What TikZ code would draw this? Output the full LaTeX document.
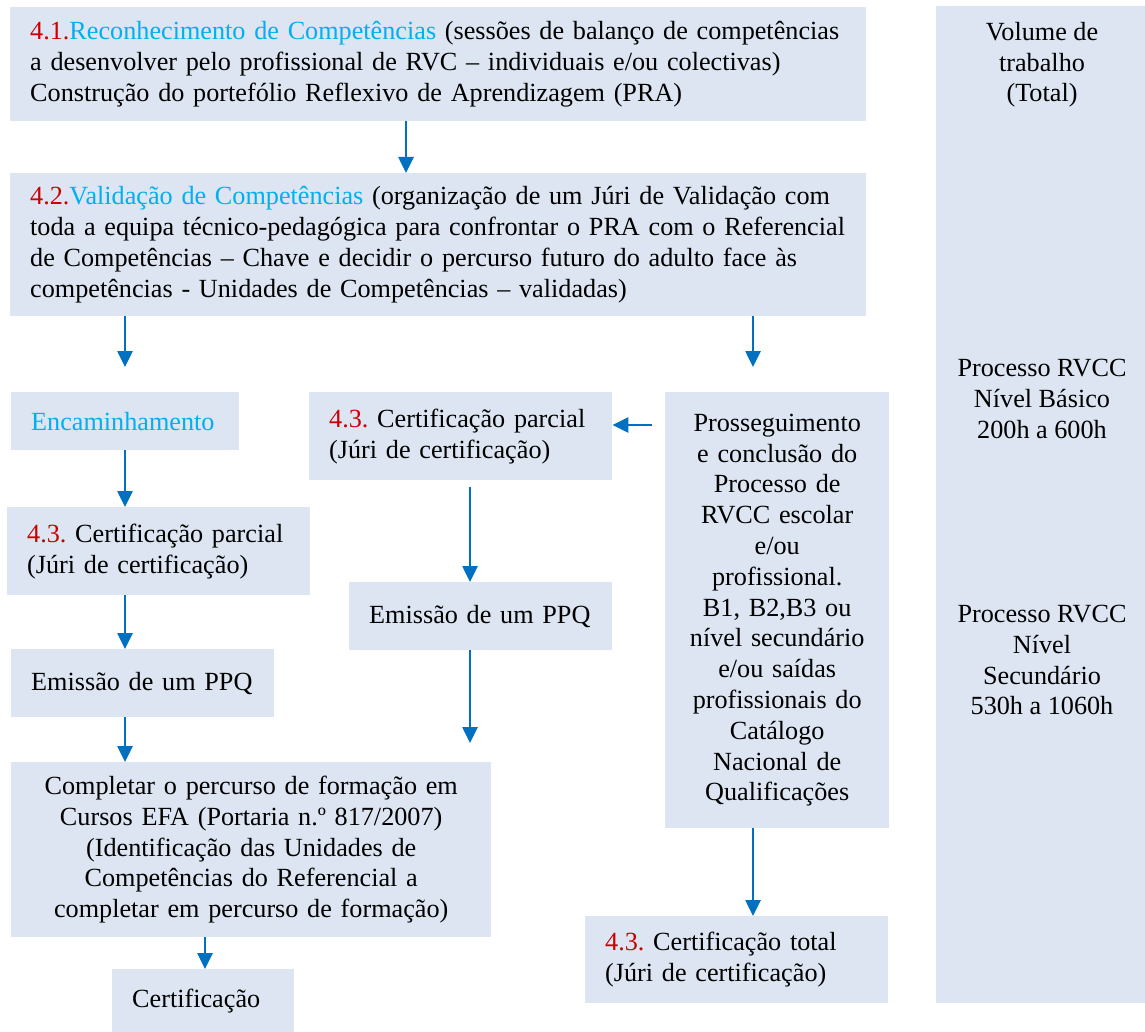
\documentclass[tikz,border=0pt]{standalone}
\usepackage{fontspec}
\setmainfont{Liberation Serif}
\usetikzlibrary{arrows.meta}
\definecolor{boxfill}{RGB}{220,229,241}
\definecolor{arrblue}{RGB}{0,112,192}
\definecolor{numred}{RGB}{204,0,0}
\definecolor{titlecyan}{RGB}{0,176,240}
\tikzset{
  box/.style={fill=boxfill, anchor=north west, inner xsep=0pt, inner ysep=0pt,
    font=\fontsize{26.2pt}{30.8pt}\selectfont\frenchspacing},
  lbox/.style={box, align=left, execute at begin node={\leftskip=20pt}},
  cbox/.style={box, align=center},
  voltext/.style={anchor=north, align=center, inner sep=0pt,
    font=\fontsize{26.2pt}{30.8pt}\selectfont},
  arr/.style={draw=arrblue, line width=2.6pt, -{Triangle[width=15pt,length=16pt]}}
}
\begin{document}
\begin{tikzpicture}[x=1pt,y=-1pt]
            \useasboundingbox (0,0) rectangle (1145,1032);
            \node[lbox, text width=856pt, minimum height=114pt] (rec) at (10,7)
              {{\color{numred}4.1.}{\color{titlecyan}Reconhecimento de Competências} (sessões de balanço de competências\\
               a desenvolver pelo profissional de RVC – individuais e/ou colectivas)\\
               Construção do portefólio Reflexivo de Aprendizagem (PRA)};
            \node[lbox, text width=856pt, minimum height=143pt] (val) at (10,173)
              {{\color{numred}4.2.}{\color{titlecyan}Validação de Competências} (organização de um Júri de Validação com\\
               toda a equipa técnico-pedagógica para confrontar o PRA com o Referencial\\
               de Competências – Chave e decidir o percurso futuro do adulto face às\\
               competências - Unidades de Competências – validadas)};
            \node[lbox, text width=228pt, minimum height=58pt] (enc) at (11,392)
              {\color{titlecyan}Encaminhamento};
            \node[lbox, text width=303pt, minimum height=88pt] (cpm) at (309,392)
              {{\color{numred}4.3.} Certificação parcial\\(Júri de certificação)};
            \node[cbox, text width=224pt, minimum height=436pt] (pro) at (665,392)
              {Prosseguimento\\e conclusão do\\Processo de\\RVCC escolar\\e/ou\\profissional.\\B1, B2,B3 ou\\nível secundário\\e/ou saídas\\profissionais do\\Catálogo\\Nacional de\\Qualificações};
            \node[lbox, text width=303pt, minimum height=88pt] (cpl) at (7,507)
              {{\color{numred}4.3.} Certificação parcial\\(Júri de certificação)};
            \node[lbox, text width=263pt, minimum height=68pt] (epm) at (349,582)
              {Emissão de um PPQ};
            \node[lbox, text width=263pt, minimum height=68pt] (epl) at (11,649)
              {Emissão de um PPQ};
            \node[cbox, text width=480pt, minimum height=175pt] (cmp) at (11,762)
              {Completar o percurso de formação em\\Cursos EFA (Portaria n.º 817/2007)\\(Identificação das Unidades de\\Competências do Referencial a\\completar em percurso de formação)};
            \node[lbox, text width=303pt, minimum height=87pt] (ctot) at (585,916)
              {{\color{numred}4.3.} Certificação total\\(Júri de certificação)};
            \node[lbox, text width=182pt, minimum height=63pt] (cert) at (112,969)
              {Certificação};
            \node[box, minimum width=209pt, minimum height=997pt] (vol) at (936,6) {};
            \node[voltext] (voltot) at (1042,22) {Volume de\\trabalho\\(Total)};
            \node[voltext] (volbas) at (1042,359) {Processo RVCC\\Nível Básico\\200h a 600h};
            \node[voltext] (volsec) at (1042,605) {Processo RVCC\\Nível\\Secundário\\530h a 1060h};
            \coordinate (encin) at (125,367);
            \coordinate (proin) at (753,367);
            \coordinate (proout) at (652,425);
            \coordinate (epmout) at (470,743);
            \draw[arr] (406,0 |- rec.south) -- (406,0 |- val.north);
            \draw[arr] (125,0 |- val.south) -- (encin);
            \draw[arr] (753,0 |- val.south) -- (proin);
            \draw[arr] (125,0 |- enc.south) -- (125,0 |- cpl.north);
            \draw[arr] (125,0 |- cpl.south) -- (125,0 |- epl.north);
            \draw[arr] (125,0 |- epl.south) -- (125,0 |- cmp.north);
            \draw[arr] (205,0 |- cmp.south) -- (205,0 |- cert.north);
            \draw[arr] (proout) -- (proout -| cpm.east);
            \draw[arr, shorten <=7pt] (470,0 |- cpm.south) -- (470,0 |- epm.north);
            \draw[arr] (470,0 |- epm.south) -- (epmout);
            \draw[arr] (753,0 |- pro.south) -- (753,0 |- ctot.north);
\end{tikzpicture}
\end{document}
